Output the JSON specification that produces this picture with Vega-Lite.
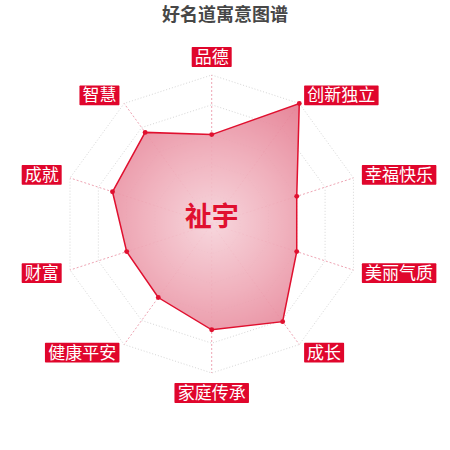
{
  "$schema": "https://vega.github.io/schema/vega-lite/v6.json",
  "width": 450,
  "height": 428,
  "autosize": {"type": "none"},
  "padding": {"top": 22, "left": 0, "right": 0, "bottom": 0},
  "background": "white",
  "title": {
    "text": "好名道寓意图谱",
    "anchor": "middle",
    "frame": "group",
    "font": "Noto Sans CJK SC",
    "fontSize": 18,
    "fontWeight": "bold",
    "color": "#474747",
    "baseline": "middle",
    "offset": -12
  },
  "config": {"view": {"stroke": null}, "font": "Noto Sans CJK SC"},
  "datasets": {
    "dims": [
      {"k": 0, "name": "品德", "v": 0.6},
      {"k": 1, "name": "创新独立", "v": 1.0},
      {"k": 2, "name": "幸福快乐", "v": 0.6},
      {"k": 3, "name": "美丽气质", "v": 0.6},
      {"k": 4, "name": "成长", "v": 0.81},
      {"k": 5, "name": "家庭传承", "v": 0.71},
      {"k": 6, "name": "健康平安", "v": 0.61},
      {"k": 7, "name": "财富", "v": 0.6},
      {"k": 8, "name": "成就", "v": 0.7},
      {"k": 9, "name": "智慧", "v": 0.76}
    ],
    "rings": [
      {"level": 0.2, "k": [0, 1, 2, 3, 4, 5, 6, 7, 8, 9, 10]},
      {"level": 0.4, "k": [0, 1, 2, 3, 4, 5, 6, 7, 8, 9, 10]},
      {"level": 0.6, "k": [0, 1, 2, 3, 4, 5, 6, 7, 8, 9, 10]},
      {"level": 0.8, "k": [0, 1, 2, 3, 4, 5, 6, 7, 8, 9, 10]},
      {"level": 1.0, "k": [0, 1, 2, 3, 4, 5, 6, 7, 8, 9, 10]}
    ],
    "loop": [{"k": [0, 1, 2, 3, 4, 5, 6, 7, 8, 9, 10]}],
    "center": [{"name": "祉宇"}]
  },
  "encoding": {
    "x": {
      "field": "x",
      "type": "quantitative",
      "scale": {"domain": [-1.4208, 1.5993], "nice": false, "zero": false},
      "axis": null
    },
    "y": {
      "field": "y",
      "type": "quantitative",
      "scale": {"domain": [-1.5168, 1.3557], "nice": false, "zero": false},
      "axis": null
    }
  },
  "layer": [
    {
      "data": {"name": "rings"},
      "transform": [
        {"flatten": ["k"]},
        {"calculate": "datum.level * sin(datum.k * PI / 5)", "as": "x"},
        {"calculate": "datum.level * cos(datum.k * PI / 5)", "as": "y"}
      ],
      "mark": {"type": "line", "stroke": "#d6d6d6", "strokeWidth": 1, "strokeDash": [1, 2]},
      "encoding": {
        "detail": {"field": "level", "type": "nominal"},
        "order": {"field": "k", "type": "quantitative"}
      }
    },
    {
      "data": {"name": "dims"},
      "transform": [
        {"calculate": "0", "as": "x"},
        {"calculate": "0", "as": "y"},
        {"calculate": "sin(datum.k * PI / 5)", "as": "x2"},
        {"calculate": "cos(datum.k * PI / 5)", "as": "y2"}
      ],
      "mark": {"type": "rule", "stroke": "#eea4b3", "strokeWidth": 1, "strokeDash": [2, 2]},
      "encoding": {
        "x2": {"field": "x2"},
        "y2": {"field": "y2"}
      }
    },
    {
      "data": {"name": "loop"},
      "transform": [
        {"flatten": ["k"]},
        {"calculate": "datum.k % 10", "as": "kk"},
        {"lookup": "kk", "from": {"data": {"name": "dims"}, "key": "k", "fields": ["v"]}},
        {"calculate": "datum.v * sin(datum.k * PI / 5)", "as": "x"},
        {"calculate": "datum.v * cos(datum.k * PI / 5)", "as": "y"}
      ],
      "mark": {
        "type": "line",
        "stroke": "#e0102f",
        "strokeWidth": 1.5,
        "fillOpacity": 0.92,
        "fill": {
          "gradient": "radial",
          "x1": 0.53, "y1": 0.53, "x2": 0.53, "y2": 0.53,
          "r1": 0, "r2": 0.62,
          "stops": [
            {"offset": 0, "color": "#f6d3da"},
            {"offset": 0.5, "color": "#efabb8"},
            {"offset": 1, "color": "#e58094"}
          ]
        }
      },
      "encoding": {
        "order": {"field": "k", "type": "quantitative"}
      }
    },
    {
      "data": {"name": "dims"},
      "transform": [
        {"calculate": "datum.v * sin(datum.k * PI / 5)", "as": "x"},
        {"calculate": "datum.v * cos(datum.k * PI / 5)", "as": "y"}
      ],
      "mark": {"type": "point", "filled": true, "size": 24, "color": "#e0102f", "opacity": 1}
    },
    {
      "data": {"name": "center"},
      "transform": [
        {"calculate": "0", "as": "x"},
        {"calculate": "0", "as": "y"}
      ],
      "mark": {"type": "text", "fontSize": 27, "fontWeight": "bold", "color": "#e0102f", "baseline": "middle", "dy": -6},
      "encoding": {"text": {"field": "name"}}
    },
    {
      "data": {"name": "dims"},
      "transform": [
        {"calculate": "sin(datum.k * PI / 5)", "as": "s"},
        {"calculate": "cos(datum.k * PI / 5)", "as": "c"},
        {"calculate": "1.067 * datum.s", "as": "lx"},
        {"calculate": "1.067 * datum.c", "as": "ly"},
        {"calculate": "(length(datum.name) * 17.25 + 5.5) / 149", "as": "w"},
        {"calculate": "datum.s > 0.1 ? datum.lx - 0.007 : (datum.s < -0.1 ? datum.lx + 0.008 - datum.w : datum.lx - datum.w / 2)", "as": "x"},
        {"calculate": "datum.x + datum.w", "as": "x2"},
        {"calculate": "abs(datum.s) > 0.1 ? datum.ly : (datum.c > 0 ? datum.ly + 0.054 : datum.ly - 0.067)", "as": "cy"},
        {"calculate": "datum.cy - 0.067", "as": "y"},
        {"calculate": "datum.cy + 0.067", "as": "y2"}
      ],
      "mark": {"type": "rect", "color": "#e0062c", "cornerRadius": 1},
      "encoding": {
        "x2": {"field": "x2"},
        "y2": {"field": "y2"}
      }
    },
    {
      "data": {"name": "dims"},
      "transform": [
        {"calculate": "sin(datum.k * PI / 5)", "as": "s"},
        {"calculate": "cos(datum.k * PI / 5)", "as": "c"},
        {"calculate": "1.067 * datum.s", "as": "lx"},
        {"calculate": "1.067 * datum.c", "as": "ly"},
        {"calculate": "(length(datum.name) * 17.25 + 5.5) / 149", "as": "w"},
        {"calculate": "datum.s > 0.1 ? datum.lx - 0.007 + datum.w / 2 : (datum.s < -0.1 ? datum.lx + 0.008 - datum.w / 2 : datum.lx)", "as": "x"},
        {"calculate": "abs(datum.s) > 0.1 ? datum.ly : (datum.c > 0 ? datum.ly + 0.054 : datum.ly - 0.067)", "as": "y"}
      ],
      "mark": {"type": "text", "fontSize": 17, "color": "white", "align": "center", "baseline": "middle", "dy": 1},
      "encoding": {"text": {"field": "name"}}
    }
  ]
}
